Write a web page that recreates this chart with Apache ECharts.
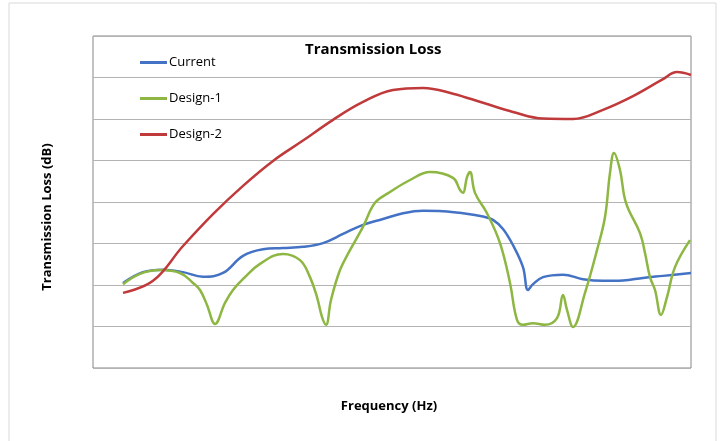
<!DOCTYPE html>
<html>
<head>
<meta charset="utf-8">
<script src="https://cdn.jsdelivr.net/npm/echarts@6/dist/echarts.min.js"></script>
<style>
  html, body { margin: 0; padding: 0; background: #fff; }
  #main { width: 723px; height: 441px; }
</style>
</head>
<body>
<div id="main"></div>
<script>
// frequency (arbitrary units) and transmission loss (dB)
var currentFreq = [30, 50, 70, 90, 110, 130, 150, 170, 190, 210, 230, 250, 270, 290, 310, 330, 350, 370, 390, 400, 410, 420, 430, 435, 440, 450, 470, 490, 510, 530, 550, 570, 598];
var currentLoss = [20.5, 23.1, 23.7, 23.1, 22.0, 22.9, 27.0, 28.6, 28.9, 29.2, 30.1, 32.3, 34.5, 35.9, 37.3, 37.9, 37.8, 37.3, 36.5, 35.7, 33.5, 29.6, 24.3, 18.8, 20.2, 21.9, 22.5, 21.4, 21.0, 21.1, 21.7, 22.2, 22.9];

var design1Freq = [30, 47, 67, 87, 100, 107, 114, 122, 132, 140, 152, 167, 190, 207, 217, 224, 229, 233, 238, 247, 257, 270, 282, 297, 317, 337, 360, 367, 370, 374, 377, 382, 394, 407, 417, 424, 430, 440, 452, 464, 470, 474, 480, 492, 504, 512, 517, 521, 527, 533, 547, 552, 557, 562, 568, 574, 582, 597];
var design1Loss = [20.2, 22.7, 23.6, 22.9, 20.5, 18.8, 15.2, 10.6, 15.7, 18.8, 21.9, 25.1, 27.5, 26.0, 21.9, 17.1, 12.3, 10.4, 16.4, 23.6, 28.4, 34.0, 39.8, 42.4, 45.3, 47.2, 45.8, 42.9, 42.2, 46.0, 47.2, 42.2, 37.3, 30.1, 20.5, 11.6, 10.4, 10.8, 10.4, 12.0, 17.6, 14.0, 9.9, 18.1, 28.4, 36.4, 47.0, 51.8, 47.7, 39.8, 32.5, 27.7, 21.9, 18.8, 12.8, 17.1, 24.3, 30.8];

var design2Freq = [30, 60, 90, 120, 150, 180, 210, 240, 270, 300, 330, 360, 390, 420, 450, 480, 510, 540, 570, 584, 598];
var design2Loss = [18.1, 21.0, 29.4, 37.1, 43.9, 49.9, 54.8, 59.8, 64.1, 67.0, 67.5, 66.1, 63.9, 61.7, 60.1, 60.0, 62.2, 65.5, 69.6, 71.3, 70.6];

function pairs(xs, ys) {
    var out = [];
    for (var i = 0; i < xs.length; i++) out.push([xs[i], ys[i]]);
    return out;
}

var myChart = echarts.init(document.getElementById('main'));
var font = 'Open Sans';

var option = {
    backgroundColor: '#fff',
    animation: false,
    graphic: [
        {
            type: 'rect',
            shape: { x: 9, y: 3, width: 707, height: 500 },
            style: { fill: 'none', stroke: '#d9d9d9', lineWidth: 1 }
        },
        {
            type: 'text',
            left: 305, top: 42,
            style: { text: 'Transmission Loss', font: 'bold 15px "' + font + '"', fill: '#000' }
        },
        {
            type: 'text',
            x: 47, y: 217,
            rotation: Math.PI / 2,
            style: {
                text: 'Transmission Loss (dB)', font: 'bold 13px "' + font + '"', fill: '#000',
                align: 'center', verticalAlign: 'middle'
            }
        },
        {
            type: 'text',
            x: 389, y: 406,
            style: {
                text: 'Frequency (Hz)', font: 'bold 13px "' + font + '"', fill: '#000',
                align: 'center', verticalAlign: 'middle'
            }
        }
    ],
    legend: {
        orient: 'vertical',
        left: 135,
        top: 51,
        icon: 'rect',
        itemWidth: 27,
        itemHeight: 3,
        itemGap: 23,
        textStyle: { fontFamily: font, fontSize: 13, color: '#000', padding: [0, 0, 0, -3] },
        data: ['Current', 'Design-1', 'Design-2']
    },
    grid: {
        left: 93,
        top: 36,
        width: 598,
        height: 332,
        show: true,
        borderColor: '#868686',
        borderWidth: 1
    },
    xAxis: {
        type: 'value',
        min: 0,
        max: 598,
        axisLine: { show: false },
        axisTick: { show: false },
        axisLabel: { show: false },
        splitLine: { show: false }
    },
    yAxis: {
        type: 'value',
        min: 0,
        max: 80,
        interval: 10,
        axisLine: { show: false },
        axisTick: { show: false },
        axisLabel: { show: false },
        splitLine: { lineStyle: { color: '#b3b3b3', width: 1 } }
    },
    series: [
        {
            name: 'Current',
            type: 'line',
            smooth: 0.4,
            showSymbol: false,
            color: '#4472c4',
            lineStyle: { width: 2.5, color: '#4472c4' },
            data: pairs(currentFreq, currentLoss)
        },
        {
            name: 'Design-1',
            type: 'line',
            smooth: 0.4,
            showSymbol: false,
            color: '#8db742',
            lineStyle: { width: 2.5, color: '#8db742' },
            data: pairs(design1Freq, design1Loss)
        },
        {
            name: 'Design-2',
            type: 'line',
            smooth: 0.4,
            showSymbol: false,
            color: '#c0393b',
            lineStyle: { width: 2.5, color: '#c0393b' },
            data: pairs(design2Freq, design2Loss)
        }
    ]
};
myChart.setOption(option);
</script>
</body>
</html>
